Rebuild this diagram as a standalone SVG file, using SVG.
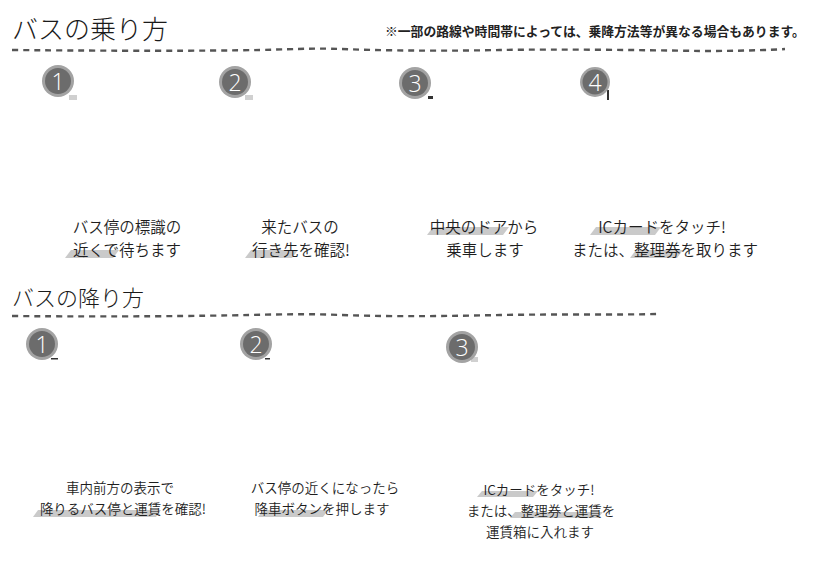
<svg xmlns="http://www.w3.org/2000/svg" width="816" height="570" viewBox="0 0 816 570">
<style>
  .title { font-family: "Noto Sans CJK JP", "Noto Sans", sans-serif; font-weight: 300; fill: #1a1a1a; }
  .note { font-family: "Noto Sans CJK JP", "Noto Sans", sans-serif; font-weight: bold; font-size: 12.8px; fill: #222; }
  .cap { font-family: "Noto Sans CJK JP", "Noto Sans", sans-serif; font-weight: 350; fill: #1e1e1e; text-anchor: middle; }
  .capT { font-size: 15.5px; }
  .capB { font-size: 13.5px; }
  .dash { fill: none; stroke: #555; stroke-width: 2.4; stroke-dasharray: 6 5; stroke-linecap: butt; }
  .ring { fill: #a3a3a3; }
  .disc { fill: #6c6c6c; }
  .num { font-family: "Open Sans", "DejaVu Sans", sans-serif; font-weight: 300; font-size: 23px; fill: #fff; text-anchor: middle; }
  .hl { fill: #cacaca; }
  .art { fill: #d0d0d0; }
  .artd { fill: #333; }
</style>

<text class="title" x="12" y="39" font-size="26">バスの乗り方</text>
<text class="note" x="385" y="36">※一部の路線や時間帯によっては、乗降方法等が異なる場合もあります。</text>
<text class="title" x="12" y="306" font-size="22">バスの降り方</text>

<g id="connectors">
  <path class="dash" d="M12 50 C 120 51 200 51 260 50 C 300 49 320 48 340 49 C 400 51 450 51 500 50 C 560 49 640 50 700 51 C 740 51 770 50 785 49"/>
  <path class="dash" d="M12 316 C 120 317 200 316 250 315 C 290 314 320 314 340 315 C 400 317 450 316 500 315 C 560 314 620 315 658 314"/>
</g>

<g id="board-1">
  <rect class="art" x="69" y="95" width="8" height="5"/>
  <circle class="ring" cx="58" cy="81" r="16"/>
  <circle class="disc" cx="58" cy="81" r="13"/>
  <text class="num" x="58" y="89.5">1</text>
  <polygon class="hl" points="65,258 71,250 119,250 113,258"/>
  <text class="cap capT" x="127" y="233">バス停の標識の</text>
  <text class="cap capT" x="127" y="256">近くで待ちます</text>
</g>

<g id="board-2">
  <rect class="art" x="245" y="95" width="8" height="5"/>
  <circle class="ring" cx="235" cy="82" r="16"/>
  <circle class="disc" cx="235" cy="82" r="13"/>
  <text class="num" x="235" y="90.5">2</text>
  <polygon class="hl" points="245,258 251,250 298,250 292,258"/>
  <text class="cap capT" x="300" y="233">来たバスの</text>
  <text class="cap capT" x="301" y="256">行き先を確認!</text>
</g>

<g id="board-3">
  <rect class="artd" x="428" y="96" width="5" height="3"/>
  <circle class="ring" cx="415" cy="83" r="16"/>
  <circle class="disc" cx="415" cy="83" r="13"/>
  <text class="num" x="415" y="91.5">3</text>
  <polygon class="hl" points="427,235 433,227 509,227 503,235"/>
  <text class="cap capT" x="484" y="233">中央のドアから</text>
  <text class="cap capT" x="485" y="256">乗車します</text>
</g>

<g id="board-4">
  <rect class="artd" x="607" y="90" width="2" height="10"/>
  <circle class="ring" cx="595" cy="82" r="15"/>
  <circle class="disc" cx="595" cy="82" r="12.5"/>
  <text class="num" x="595" y="90.5">4</text>
  <polygon class="hl" points="590,235 596,227 661,227 655,235"/>
  <polygon class="hl" points="630,258 636,250 683,250 677,258"/>
  <text class="cap capT" x="662" y="233">ICカードをタッチ!</text>
  <text class="cap capT" x="665" y="256">または、整理券を取ります</text>
</g>

<g id="alight-1">
  <rect class="artd" x="51" y="358" width="7" height="1.5"/>
  <circle class="ring" cx="42" cy="344" r="16"/>
  <circle class="disc" cx="42" cy="344" r="13"/>
  <text class="num" x="42" y="352.5">1</text>
  <polygon class="hl" points="33,517 38,510 161,510 156,517"/>
  <text class="cap capB" x="120" y="493">車内前方の表示で</text>
  <text class="cap capB" x="123" y="514">降りるバス停と運賃を確認!</text>
</g>

<g id="alight-2">
  <rect class="artd" x="265" y="358" width="5" height="1.5"/>
  <circle class="ring" cx="256" cy="344" r="16"/>
  <circle class="disc" cx="256" cy="344" r="13"/>
  <text class="num" x="256" y="352.5">2</text>
  <polygon class="hl" points="258,517 263,510 328,510 323,517"/>
  <text class="cap capB" x="325" y="493">バス停の近くになったら</text>
  <text class="cap capB" x="322" y="514">降車ボタンを押します</text>
</g>

<g id="alight-3">
  <rect class="art" x="471" y="357" width="7" height="5"/>
  <circle class="ring" cx="462" cy="347" r="16"/>
  <circle class="disc" cx="462" cy="347" r="13"/>
  <text class="num" x="462" y="355.5">3</text>
  <polygon class="hl" points="477,497 482,491 538,491 533,497"/>
  <polygon class="hl" points="510,518 515,512 603,512 598,518"/>
  <text class="cap capB" x="539" y="495">ICカードをタッチ!</text>
  <text class="cap capB" x="541" y="516">または、整理券と運賃を</text>
  <text class="cap capB" x="540" y="537">運賃箱に入れます</text>
</g>
</svg>
